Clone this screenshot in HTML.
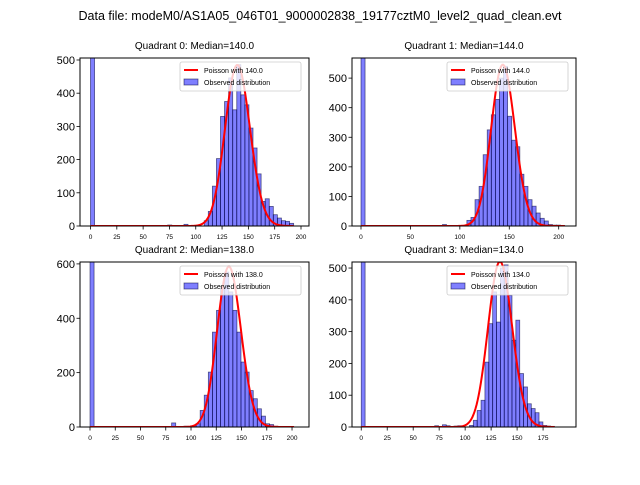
<!DOCTYPE html>
<html><head><meta charset="utf-8"><style>
body{margin:0;background:#fff;width:640px;height:480px;overflow:hidden}
svg{font-family:"Liberation Sans","DejaVu Sans",sans-serif}
</style></head><body>
<svg id="fig" width="640" height="480" viewBox="0 0 640 480" xmlns="http://www.w3.org/2000/svg">
<rect width="640" height="480" fill="#fff"/>
<text x="320" y="20" font-size="12.5" text-anchor="middle">Data file: modeM0/AS1A05_046T01_9000002838_19177cztM0_level2_quad_clean.evt</text>
</svg>
<script>
// ---- data ----
const quadNames = ["Quadrant 0","Quadrant 1","Quadrant 2","Quadrant 3"];
const medians = [140.0, 144.0, 138.0, 134.0];
const binWidths = [3.86, 4.12, 4.04, 3.72];
const zeroBinCounts = [2000, 2000, 2000, 2000];
const startIdx0 = 28;
const counts0 = [16,44,120,203,330,375,446,350,486,395,365,295,235,157,74,82,59,34,24,16,14,8];
const startIdx1 = 26;
const counts1 = [19,29,89,134,241,325,376,428,500,540,371,290,268,175,134,89,67,44,26,17,5,3,3,2];
const startIdx2 = 25;
const counts2 = [5,12,61,117,202,349,429,513,570,497,429,349,239,202,134,104,67,40,12,9,3,2];
const startIdx3 = 28;
const counts3 = [5,21,52,84,204,325,425,330,500,510,414,273,336,168,126,73,58,45,16,5,3,2];
const smallBars0 = [[19,3],[23,5]];
const smallBars1 = [[20,5]];
const smallBars2 = [[20,15],[23,3]];
const smallBars3 = [[19,4],[21,7],[22,4],[24,3],[25,4]];
const curvePeaks = [485, 545, 590, 520];
const curveEnds = [193, 206, 202, 186];
const yTicks0 = [0,100,200,300,400,500];
const yTicks1 = [0,100,200,300,400,500];
const yTicks2 = [0,200,400,600];
const yTicks3 = [0,100,200,300,400,500];
const xTicks0 = [0,25,50,75,100,125,150,175,200];
const xTicks1 = [0,50,100,150,200];
const xTicks2 = [0,25,50,75,100,125,150,175,200];
const xTicks3 = [0,25,50,75,100,125,150,175];
// ---- layout ----
const axesBoxes = [
 {l:80,r:309,t:58,b:226,xmin:-9.98,xmax:207.6,ymax:506},
 {l:352,r:576,t:58,b:226,xmin:-9.1,xmax:217.5,ymax:568},
 {l:80,r:309,t:262,b:427,xmin:-9.9,xmax:216.8,ymax:607},
 {l:352,r:576,t:262,b:427,xmin:-8.9,xmax:206.7,ymax:519}
];
const allCounts=[counts0,counts1,counts2,counts3];
const allStarts=[startIdx0,startIdx1,startIdx2,startIdx3];
const allSmall=[smallBars0,smallBars1,smallBars2,smallBars3];
const allY=[yTicks0,yTicks1,yTicks2,yTicks3];
const allX=[xTicks0,xTicks1,xTicks2,xTicks3];
const NS="http://www.w3.org/2000/svg";
const fig=document.getElementById('fig');
function mk(tag,attrs,parent){const e=document.createElementNS(NS,tag);for(const k in attrs)e.setAttribute(k,attrs[k]);(parent||fig).appendChild(e);return e;}
function lgamma(z){const c=[76.18009172947146,-86.50532032941677,24.01409824083091,-1.231739572450155,0.1208650973866179e-2,-0.5395239384953e-5];let x=z,y=z,t=x+5.5;t-=(x+0.5)*Math.log(t);let s=1.000000000190015;for(let j=0;j<6;j++)s+=c[j]/++y;return -t+Math.log(2.5066282746310005*s/x);}
function pmf(k,lam){return Math.exp(k*Math.log(lam)-lam-lgamma(k+1));}
for(let q=0;q<4;q++){
 const A=axesBoxes[q];
 const sx=v=>A.l+(v-A.xmin)/(A.xmax-A.xmin)*(A.r-A.l);
 const sy=v=>A.b-v/A.ymax*(A.b-A.t);
 const g=mk('g',{});
 
 
 const cid='clip'+q;
 const cp=mk('clipPath',{id:cid},g);mk('rect',{x:A.l,y:A.t,width:A.r-A.l,height:A.b-A.t},cp);
 const t=mk('text',{x:(A.l+A.r)/2,y:A.t-9,'font-size':'10','text-anchor':'middle'},g);
 t.textContent=quadNames[q]+': Median='+medians[q].toFixed(1);
 
 
 const bars=mk('g',{'clip-path':'url(#'+cid+')'},g);
 const w=binWidths[q];
 const drawBar=(i,c)=>{const r=mk('rect',{x:sx(i*w),y:sy(c),width:sx((i+1)*w)-sx(i*w),height:sy(0)-sy(c),fill:'rgba(0,0,255,0.5)',stroke:'rgba(0,0,60,0.6)','stroke-width':'0.8'},bars);
  
  };
 drawBar(0,zeroBinCounts[q]);
 allSmall[q].forEach(p=>drawBar(p[0],p[1]));
 allCounts[q].forEach((c,j)=>drawBar(allStarts[q]+j,c));
 const lam=medians[q];const scale=curvePeaks[q]/pmf(Math.floor(lam),lam);
 let d='';for(let k=0;k<=curveEnds[q];k++){d+=(k?'L':'M')+sx(k).toFixed(2)+','+sy(pmf(k,lam)*scale).toFixed(2);}
 const pl=mk('path',{d:d,fill:'none',stroke:'#ff0000','stroke-width':'2'},bars);
 
 
 mk('rect',{x:A.l,y:A.t,width:A.r-A.l,height:A.b-A.t,fill:'none',stroke:'#000','stroke-width':'1'},g);
 allY[q].forEach(v=>{const y=sy(v);mk('line',{x1:A.l-3.5,x2:A.l,y1:y,y2:y,stroke:'#000','stroke-width':'0.8'},g);
  const tt=mk('text',{x:A.l-5,y:y+4,'font-size':'11','text-anchor':'end'},g);tt.textContent=v;
  
  });
 allX[q].forEach(v=>{const x=sx(v);mk('line',{x1:x,x2:x,y1:A.b,y2:A.b+3.5,stroke:'#000','stroke-width':'0.8'},g);
  const tt=mk('text',{x:x,y:A.b+13,'font-size':'6.5','text-anchor':'middle'},g);tt.textContent=v;
  
  });
 const lg=mk('g',{},g);
 
 
 const lx=A.r-129,ly=A.t+4;
 mk('rect',{x:lx,y:ly,width:121,height:29,rx:2,fill:'rgba(255,255,255,0.8)',stroke:'#ccc','stroke-width':'0.8'},lg);
 mk('line',{x1:lx+4,x2:lx+18,y1:ly+8,y2:ly+8,stroke:'#ff0000','stroke-width':'2'},lg);
 const l1=mk('text',{x:lx+24,y:ly+11,'font-size':'7'},lg);l1.textContent='Poisson with '+medians[q].toFixed(1);
 mk('rect',{x:lx+4,y:ly+17,width:14,height:6,fill:'rgba(0,0,255,0.5)',stroke:'rgba(0,0,60,0.6)','stroke-width':'0.8'},lg);
 const l2=mk('text',{x:lx+24,y:ly+23,'font-size':'7'},lg);l2.textContent='Observed distribution';
}
</script>
</body></html>
